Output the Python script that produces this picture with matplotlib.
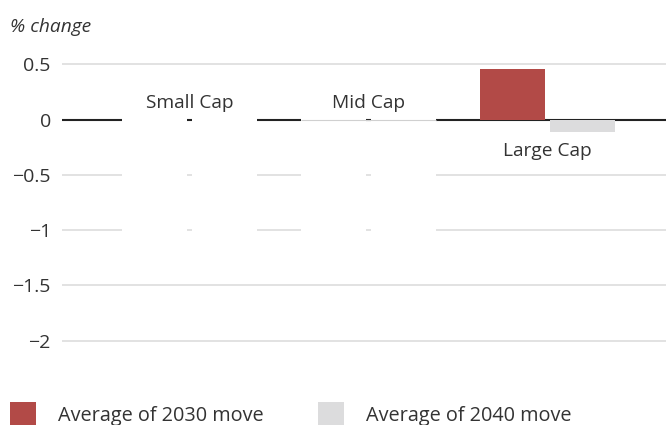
import numpy as np
import matplotlib.pyplot as plt

# data
categories = ['Small Cap', 'Mid Cap', 'Large Cap']
avg_2030 = [0.0, 0.0, 0.46]
avg_2040 = [0.0, 0.0, -0.11]
y_ticks = [0.5, 0, -0.5, -1, -1.5, -2]

red = '#B24A47'
grey = '#DCDCDD'
text_col = '#333333'

plt.rcParams['font.family'] = ['Open Sans', 'DejaVu Sans']

fig = plt.figure(figsize=(6.66, 4.25), dpi=100)
ax = fig.add_axes([0.093, 0.146, 0.907, 0.729])

x = np.arange(len(categories))
w = 0.363
off = 0.1955

ax.bar(x - off, avg_2030, w, color=red, zorder=3, label='Average of 2030 move')
ax.bar(x + off, avg_2040, w, color=grey, zorder=3, label='Average of 2040 move')

# blank slots under the empty categories (as in the original rendering)
empty = [i for i in x if avg_2030[i] == 0 and avg_2040[i] == 0]
for i in empty:
    for dx in (-off, off):
        ax.bar(i + dx, -1.27, w, bottom=0.02, color='white', zorder=2.5)
# mid cap keeps a thin grey zero line
ax.hlines(0, x[1] - off - w / 2, x[1] + off + w / 2, color='#d0d0d0', lw=0.8, zorder=2.6)

ax.axhline(0, color='#222222', lw=1.5, zorder=2)

# category labels next to the zero line
for i, cat in enumerate(categories):
    if max(avg_2030[i], avg_2040[i]) > 0:
        ax.text(i, -0.2, cat, ha='center', va='top', fontsize=13.8, color=text_col, zorder=4)
    else:
        ax.text(i, 0.07, cat, ha='center', va='bottom', fontsize=13.8, color=text_col, zorder=4)

ax.set_xlim(-0.715, 2.66)
ax.set_ylim(-2.2, 0.6)
ax.set_yticks(y_ticks)
ax.set_yticklabels([f'{v:g}'.replace('-', '\u2212') for v in y_ticks], fontsize=14, color=text_col)
ax.tick_params(axis='y', length=0, pad=8)
ax.set_xticks([])
ax.grid(axis='y', color='#dddddd', lw=1.2, zorder=0)
ax.set_axisbelow(True)
for s in ax.spines.values():
    s.set_visible(False)

fig.text(10 / 666, 1 - 27 / 425, '% change', style='italic', fontsize=13.8,
         color=text_col, va='center', ha='left')

fig.legend(loc='upper left', bbox_to_anchor=(10 / 666, 1 - 402 / 425), ncol=2,
           frameon=False, fontsize=14.3, handlelength=1.3, handleheight=1.5,
           handletextpad=1.1, columnspacing=2.75, borderpad=0, borderaxespad=0,
           labelcolor=text_col)

fig.savefig('out.png', dpi=100)
